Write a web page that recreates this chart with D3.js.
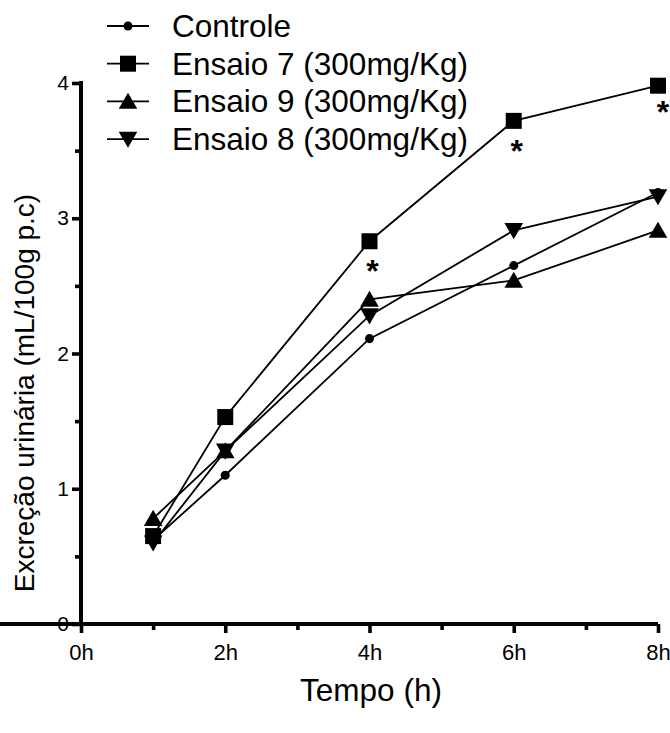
<!DOCTYPE html>
<html lang="pt">
<head>
<meta charset="UTF-8">
<title>Excreção urinária</title>
<script src="https://d3js.org/d3.v7.min.js"></script>
<style>
  body { margin: 0; background: #fff; }
  text { font-family: "Liberation Sans", Arial, sans-serif; fill: #000; }
</style>
</head>
<body>
<script>
    var hours = [1, 2, 4, 6, 8]
    var controle = [0.62, 1.10, 2.11, 2.65, 3.19]
    var ensaio7 = [0.65, 1.53, 2.83, 3.72, 3.98]
    var ensaio9 = [0.78, 1.28, 2.40, 2.54, 2.91]
    var ensaio8 = [0.60, 1.28, 2.28, 2.91, 3.16]
    var seriesNames = ['Controle', 'Ensaio 7 (300mg/Kg)', 'Ensaio 9 (300mg/Kg)', 'Ensaio 8 (300mg/Kg)']
    var xTicks = [0, 2, 4, 6, 8]
    var xTickLabels = ['0h', '2h', '4h', '6h', '8h']
    var yTicks = [0, 1, 2, 3, 4]
    var signifHours = [4, 6, 8]   // asterisks on Ensaio 7

    var w = 670, h = 733

    var svg = d3.select('body').append('svg')
        .attr('width', w).attr('height', h)

    var x = d3.scaleLinear().domain([0, 8]).range([81, 658])
    var y = d3.scaleLinear().domain([0, 4]).range([624, 83])

    var series = [
        { name: seriesNames[0], values: controle, shape: d3.symbolCircle, size: 64, rot: 0 },
        { name: seriesNames[1], values: ensaio7, shape: d3.symbolSquare, size: 256, rot: 0 },
        { name: seriesNames[2], values: ensaio9, shape: d3.symbolTriangle, size: 150, rot: 0 },
        { name: seriesNames[3], values: ensaio8, shape: d3.symbolTriangle, size: 150, rot: 180 }
    ]

    // axes
    var yAxis = svg.append('g')
        .attr('transform', 'translate(' + x(0) + ',0)')
        .call(d3.axisLeft(y).tickValues(yTicks).tickSize(9).tickPadding(3).tickFormat(d3.format('d')))
    svg.append('g')
        .attr('transform', 'translate(' + x(0) + ',0)')
        .call(d3.axisLeft(y).tickValues([0.5, 1.5, 2.5, 3.5]).tickSize(6).tickFormat(''))
        .select('.domain').remove()

    var xAxis = svg.append('g')
        .attr('transform', 'translate(0,' + y(0) + ')')
        .call(d3.axisBottom(x).tickValues(xTicks).tickSize(9).tickPadding(11)
            .tickFormat(function (d, i) { return xTickLabels[i] }))
    svg.append('g')
        .attr('transform', 'translate(0,' + y(0) + ')')
        .call(d3.axisBottom(x).tickValues([1, 3, 5, 7]).tickSize(6).tickFormat(''))
        .select('.domain').remove()

    yAxis.select('.domain').attr('d', 'M0,' + (y(4) - 2) + 'V' + (y(0) + 2))
    xAxis.select('.domain').attr('d', 'M-2,0H' + x(8))
    svg.selectAll('.domain').attr('stroke-width', 4)
    svg.selectAll('.tick line').attr('stroke-width', 3.6)
    yAxis.selectAll('.tick text').style('font-size', '21px')
    xAxis.selectAll('.tick text').style('font-size', '22px')

    // axis titles
    svg.append('text')
        .attr('transform', 'translate(34,' + 393 + ') rotate(-90)')
        .attr('text-anchor', 'middle')
        .style('font-size', '28px')
        .text('Excreção urinária (mL/100g p.c)')
    svg.append('text')
        .attr('x', 371).attr('y', 701)
        .attr('text-anchor', 'middle')
        .style('font-size', '31.5px')
        .text('Tempo (h)')

    // lines
    var line = d3.line()
        .x(function (d, i) { return x(hours[i]) })
        .y(function (d) { return y(d) })

    svg.selectAll('.series-line')
        .data(series).enter().append('path')
        .attr('class', 'series-line')
        .attr('d', function (s) { return line(s.values) })
        .attr('fill', 'none').attr('stroke', '#000').attr('stroke-width', 1.8)

    series.forEach(function (s) {
        svg.selectAll(null)
            .data(s.values).enter().append('path')
            .attr('d', d3.symbol().type(s.shape).size(s.size))
            .attr('transform', function (d, i) {
                var dy = s.rot ? -2 : (s.shape === d3.symbolTriangle ? 2 : 0)
                return 'translate(' + x(hours[i]) + ',' + (y(d) + dy) + ') rotate(' + s.rot + ')'
            })
            .attr('fill', '#000')
    })

    // significance asterisks
    svg.selectAll('.star')
        .data(signifHours).enter().append('text')
        .attr('class', 'star')
        .attr('x', function (d) { return x(d) + (d === 8 ? 5 : 3) })
        .attr('y', function (d) { return y(ensaio7[hours.indexOf(d)]) + (d === 8 ? 37 : 41) })
        .attr('text-anchor', 'middle')
        .style('font-size', '32px').style('font-weight', 'bold')
        .text('*')

    // legend
    var legend = svg.append('g')
    series.forEach(function (s, i) {
        var ly = 26 + i * 37.7
        legend.append('line')
            .attr('x1', 107).attr('x2', 149).attr('y1', ly).attr('y2', ly)
            .attr('stroke', '#000').attr('stroke-width', 1.8)
        legend.append('path')
            .attr('d', d3.symbol().type(s.shape).size(s.size))
            .attr('transform', 'translate(128,' + (ly + (s.rot ? -2 : (s.shape === d3.symbolTriangle ? 2 : 0))) + ') rotate(' + s.rot + ')')
            .attr('fill', '#000')
        legend.append('text')
            .attr('x', 172).attr('y', ly + 11)
            .style('font-size', '31.5px')
            .text(s.name)
    })
</script>
</body>
</html>
